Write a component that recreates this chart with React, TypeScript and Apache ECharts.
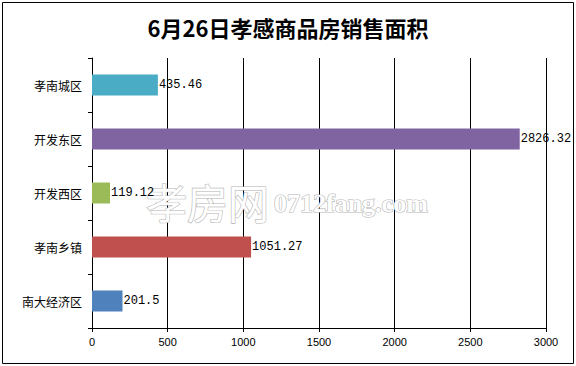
import React, { useEffect, useRef } from "react";
import * as echarts from "echarts";

const titleText = "6月26日孝感商品房销售面积";
const categories = ["孝南城区", "开发东区", "开发西区", "孝南乡镇", "南大经济区"];
const values = [435.46, 2826.32, 119.12, 1051.27, 201.5];
const barColors = ["#4BACC6", "#8064A2", "#9BBB59", "#C0504D", "#4F81BD"];
const xTicks = { min: 0, max: 3000, interval: 500 };

export default function App() {
  const ref = useRef<HTMLDivElement>(null);
  useEffect(() => {
    if (!ref.current) return;
    const chart = echarts.init(ref.current, null, { renderer: "svg" });
    chart.setOption({
      animation: false,
      backgroundColor: "#ffffff",
      title: {
        text: titleText,
        left: "center",
        top: 11,
        textStyle: {
          fontFamily: "Noto Sans CJK SC",
          fontSize: 22,
          fontWeight: "bold",
          color: "#000",
        },
      },
      graphic: [
        {
          type: "rect",
          shape: { x: 2.5, y: 2.5, width: 571, height: 361 },
          style: { fill: "none", stroke: "#000", lineWidth: 1 },
          silent: true,
          z: 0,
        },
        {
          type: "text",
          x: 146,
          y: 180,
          z: 1,
          silent: true,
          style: {
            text: "孝房网",
            fontFamily: "Noto Sans CJK SC",
            fontSize: 41,
            verticalAlign: "top",
            fill: "#ffffff",
            stroke: "#b4b4b4",
            lineWidth: 1.2,
          },
        },
        {
          type: "text",
          x: 274,
          y: 190,
          z: 1,
          silent: true,
          style: {
            text: "0712fang.com",
            fontFamily: "Liberation Serif",
            fontSize: 26,
            fontWeight: "bold",
            verticalAlign: "top",
            fill: "#ffffff",
            stroke: "#b4b4b4",
            lineWidth: 1.2,
          },
        },
      ],
      grid: { left: 92, right: 30, top: 58, bottom: 38, containLabel: false },
      xAxis: {
        type: "value",
        min: xTicks.min,
        max: xTicks.max,
        interval: xTicks.interval,
        axisLine: { show: true, lineStyle: { color: "#000", width: 1 } },
        axisTick: { show: true, length: 4, lineStyle: { color: "#000" } },
        axisLabel: {
          color: "#000",
          fontFamily: "Liberation Sans",
          fontSize: 11,
          margin: 8,
          formatter: (v: number) => String(v),
        },
        splitLine: { show: true, lineStyle: { color: "#000", width: 1 } },
      },
      yAxis: {
        type: "category",
        inverse: true,
        data: categories,
        axisLine: { show: true, lineStyle: { color: "#000", width: 1 } },
        axisTick: { show: true, length: 4, lineStyle: { color: "#000" } },
        axisLabel: {
          color: "#000",
          fontFamily: "Noto Sans CJK SC",
          fontSize: 12,
          margin: 10,
        },
      },
      series: [
        {
          type: "bar",
          barWidth: 21,
          data: values.map((v, i) => ({ value: v, itemStyle: { color: barColors[i] } })),
          label: {
            show: true,
            position: "right",
            distance: 1,
            color: "#000",
            fontFamily: "Liberation Mono",
            fontSize: 12,
            formatter: (p: any) => String(p.value),
          },
          z: 3,
        },
      ],
    });
    return () => chart.dispose();
  }, []);
  return <div ref={ref} style={{ width: 576, height: 366, position: "absolute", left: 0, top: 0 }} />;
}
